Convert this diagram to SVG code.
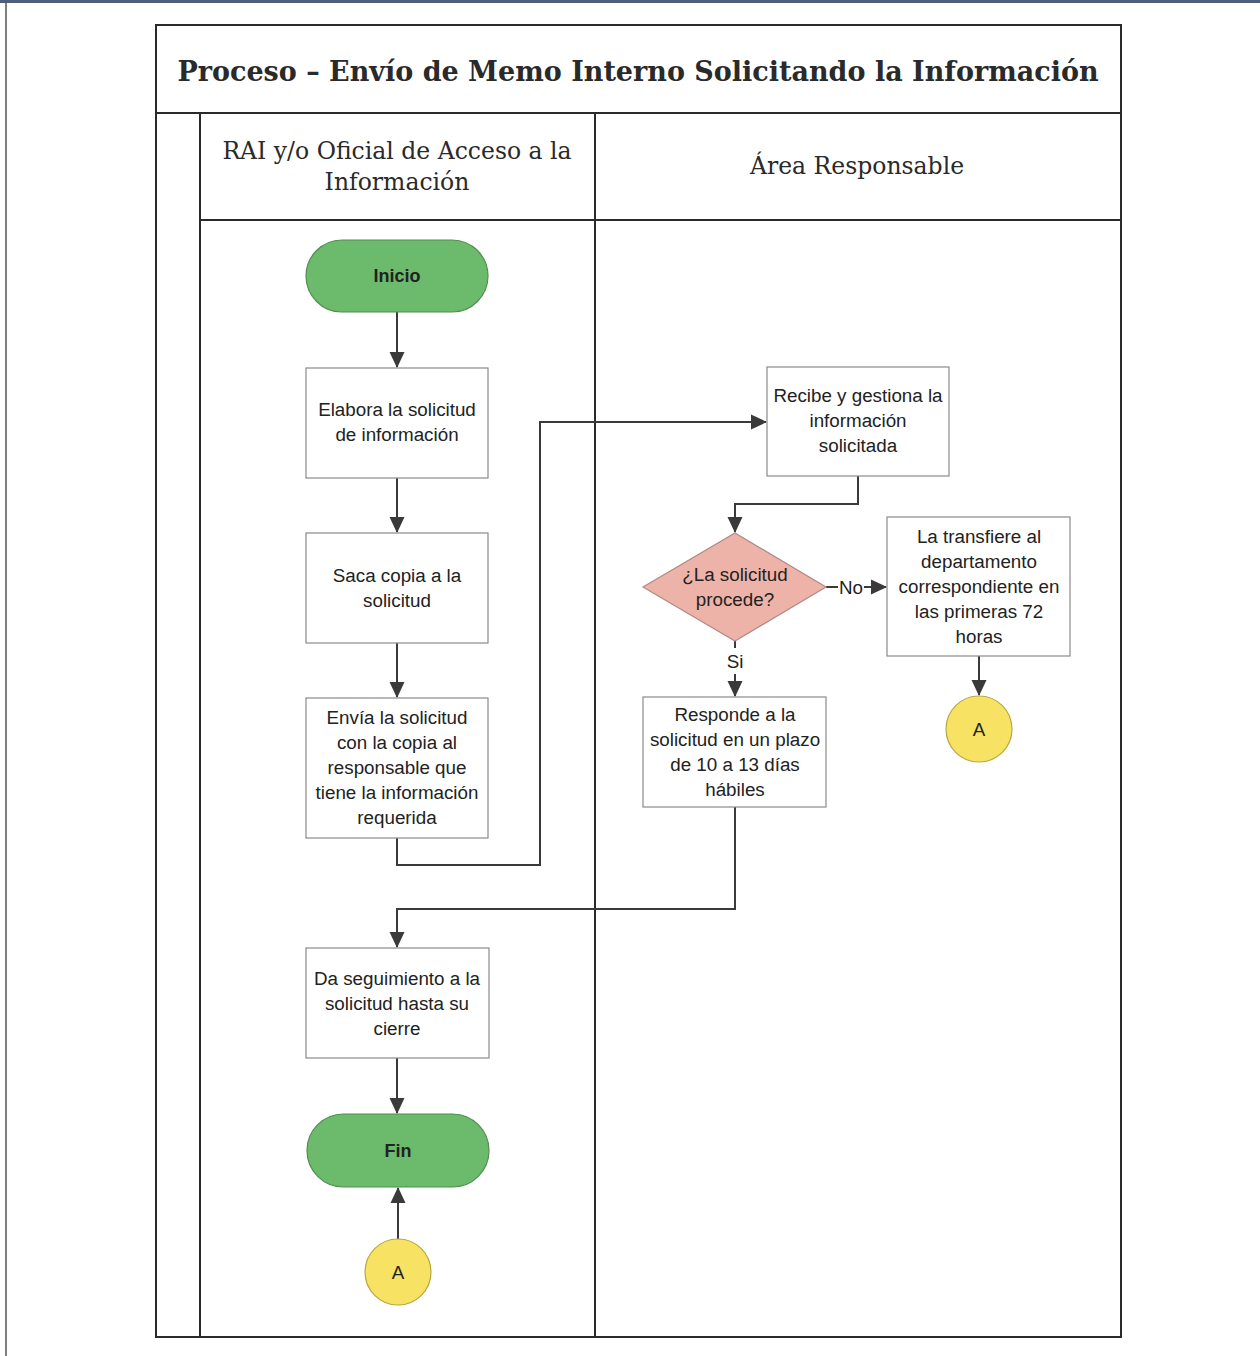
<svg xmlns="http://www.w3.org/2000/svg" width="1260" height="1356" viewBox="0 0 1260 1356">
<defs>
<marker id="ah" markerWidth="16" markerHeight="16" refX="15" refY="8" orient="auto" markerUnits="userSpaceOnUse">
<path d="M0,0.5 L16,8 L0,15.5 Z" fill="#3a3a3a"/>
</marker>
<style>
.frame{fill:none;stroke:#2a2a2a;stroke-width:2}
.box{fill:#ffffff;stroke:#8a8a8a;stroke-width:1.2}
.term{fill:#6cba6c;stroke:#4f8f4f;stroke-width:1.2}
.dec{fill:#eeb3a8;stroke:#b08a84;stroke-width:1.2}
.con{fill:#f7e263;stroke:#b8a840;stroke-width:1.2}
.t{font-family:"Liberation Sans",Arial,sans-serif;font-size:18.8px;fill:#222;text-anchor:middle}
.tb{font-family:"Liberation Sans",Arial,sans-serif;font-size:18px;font-weight:bold;fill:#222;text-anchor:middle}
.title{font-family:"DejaVu Serif","Liberation Serif",serif;font-size:27px;font-weight:bold;fill:#2a2a2a;text-anchor:middle}
.lane{font-family:"DejaVu Serif","Liberation Serif",serif;font-size:23.5px;fill:#2a2a2a;text-anchor:middle}
.ln{fill:none;stroke:#3a3a3a;stroke-width:2}
</style>
</defs>
<rect x="0" y="0" width="1260" height="1356" fill="#ffffff"/>
<rect x="0" y="0" width="1260" height="3" fill="#4d6079"/>
<line x1="6" y1="3" x2="6" y2="1356" stroke="#555" stroke-width="1.5"/>

<g id="pool">
<rect class="frame" x="156" y="25" width="965" height="1312"/>
<line class="frame" x1="156" y1="113" x2="1121" y2="113"/>
<line class="frame" x1="200" y1="113" x2="200" y2="1337"/>
<line class="frame" x1="595" y1="113" x2="595" y2="1337"/>
<line class="frame" x1="200" y1="220" x2="1121" y2="220"/>
<text class="title" x="638" y="81">Proceso – Envío de Memo Interno Solicitando la Información</text>
<text class="lane" x="397" y="159">RAI y/o Oficial de Acceso a la</text>
<text class="lane" x="397" y="190">Información</text>
<text class="lane" x="857" y="174">Área Responsable</text>
</g>

<g id="connectors">
<line class="ln" x1="397" y1="312" x2="397" y2="367" marker-end="url(#ah)"/>
<line class="ln" x1="397" y1="478" x2="397" y2="532" marker-end="url(#ah)"/>
<line class="ln" x1="397" y1="643" x2="397" y2="697" marker-end="url(#ah)"/>
<polyline class="ln" points="397,838 397,865 540,865 540,422 766,422" marker-end="url(#ah)"/>
<polyline class="ln" points="858,476 858,504 735,504 735,532" marker-end="url(#ah)"/>
<line class="ln" x1="826" y1="587" x2="838" y2="587"/>
<text class="t" x="851" y="594">No</text>
<line class="ln" x1="864" y1="587" x2="886" y2="587" marker-end="url(#ah)"/>
<line class="ln" x1="735" y1="641" x2="735" y2="648"/>
<text class="t" x="735" y="668">Si</text>
<line class="ln" x1="735" y1="674" x2="735" y2="696" marker-end="url(#ah)"/>
<line class="ln" x1="979" y1="656" x2="979" y2="695" marker-end="url(#ah)"/>
<polyline class="ln" points="735,807 735,909 397,909 397,947" marker-end="url(#ah)"/>
<line class="ln" x1="397" y1="1058" x2="397" y2="1113" marker-end="url(#ah)"/>
<line class="ln" x1="398" y1="1239" x2="398" y2="1188" marker-end="url(#ah)"/>
</g>

<g id="inicio">
<rect class="term" x="306" y="240" width="182" height="72" rx="36"/>
<text class="tb" x="397" y="282">Inicio</text>
</g>
<g id="elabora">
<rect class="box" x="306" y="368" width="182" height="110"/>
<text class="t" x="397" y="416">Elabora la solicitud</text>
<text class="t" x="397" y="441">de información</text>
</g>
<g id="saca">
<rect class="box" x="306" y="533" width="182" height="110"/>
<text class="t" x="397" y="582">Saca copia a la</text>
<text class="t" x="397" y="607">solicitud</text>
</g>
<g id="envia">
<rect class="box" x="306" y="698" width="182" height="140"/>
<text class="t" x="397" y="724">Envía la solicitud</text>
<text class="t" x="397" y="749">con la copia al</text>
<text class="t" x="397" y="774">responsable que</text>
<text class="t" x="397" y="799">tiene la información</text>
<text class="t" x="397" y="824">requerida</text>
</g>
<g id="recibe">
<rect class="box" x="767" y="367" width="182" height="109"/>
<text class="t" x="858" y="402">Recibe y gestiona la</text>
<text class="t" x="858" y="427">información</text>
<text class="t" x="858" y="452">solicitada</text>
</g>
<g id="decision">
<polygon class="dec" points="735,533 826,587 735,641 643,587"/>
<text class="t" x="735" y="581">¿La solicitud</text>
<text class="t" x="735" y="606">procede?</text>
</g>
<g id="transfiere">
<rect class="box" x="887" y="517" width="183" height="139"/>
<text class="t" x="979" y="543">La transfiere al</text>
<text class="t" x="979" y="568">departamento</text>
<text class="t" x="979" y="593">correspondiente en</text>
<text class="t" x="979" y="618">las primeras 72</text>
<text class="t" x="979" y="643">horas</text>
</g>
<g id="conA1">
<circle class="con" cx="979" cy="729" r="33"/>
<text class="t" x="979" y="736">A</text>
</g>
<g id="responde">
<rect class="box" x="643" y="697" width="183" height="110"/>
<text class="t" x="735" y="721">Responde a la</text>
<text class="t" x="735" y="746">solicitud en un plazo</text>
<text class="t" x="735" y="771">de 10 a 13 días</text>
<text class="t" x="735" y="796">hábiles</text>
</g>
<g id="seguimiento">
<rect class="box" x="306" y="948" width="183" height="110"/>
<text class="t" x="397" y="985">Da seguimiento a la</text>
<text class="t" x="397" y="1010">solicitud hasta su</text>
<text class="t" x="397" y="1035">cierre</text>
</g>
<g id="fin">
<rect class="term" x="307" y="1114" width="182" height="73" rx="36.5"/>
<text class="tb" x="398" y="1157">Fin</text>
</g>
<g id="conA2">
<circle class="con" cx="398" cy="1272" r="33"/>
<text class="t" x="398" y="1279">A</text>
</g>
</svg>
